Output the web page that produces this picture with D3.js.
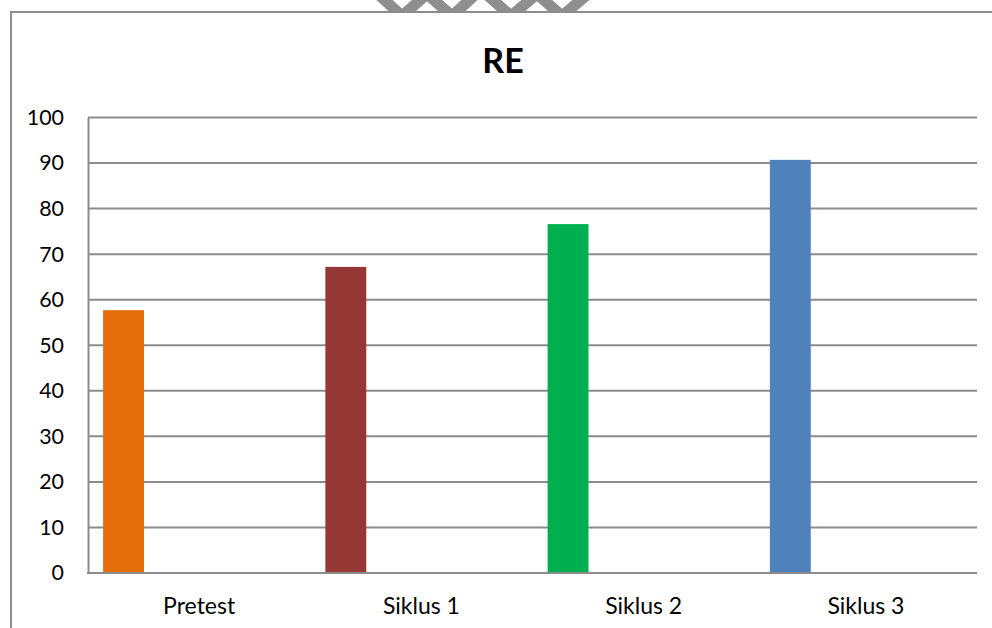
<!DOCTYPE html>
<html>
<head>
<meta charset="utf-8">
<script src="https://cdn.jsdelivr.net/npm/d3@7/dist/d3.min.js"></script>
<style>
  html, body { margin: 0; padding: 0; background: #fff; }
  svg { display: block; }
  text { font-family: Lato, "Open Sans", sans-serif; fill: #000; }
</style>
</head>
<body>
<svg id="chart" width="992" height="628"></svg>
<script>
// Chart data
const title = "RE";
const categories = ["Pretest", "Siklus 1", "Siklus 2", "Siklus 3"];
const values = [57.7, 67.2, 76.6, 90.7];
const barColors = ["#E46C0A", "#953735", "#00B050", "#4F81BD"];
const yTicks = [0, 10, 20, 30, 40, 50, 60, 70, 80, 90, 100];

const W = 992, H = 628;
const plot = { left: 88, right: 977, top: 117.5, bottom: 573 };
const grid = "#8c8c8c";

const svg = d3.select("#chart");

// grey zigzag emblem along the top edge, cut off by the frame
const mark = svg.append("g").attr("stroke", "#8e8e8e").attr("stroke-width", 11)
  .attr("fill", "none").attr("stroke-linejoin", "miter");
[[[378, -6], [402, 16], [427, -6], [452, 16], [476, -6]],
 [[486, -6], [511, 16], [537, -6], [562, 16], [588, -6]]]
  .forEach(pts => mark.append("path").attr("d", d3.line()(pts)));
svg.append("rect").attr("x", 0).attr("y", 12).attr("width", W).attr("height", H).attr("fill", "#fff");

// frame
svg.append("path").attr("d", `M11,${H} V12 H${W}`).attr("fill", "none")
  .attr("stroke", grid).attr("stroke-width", 2);

const x = d3.scaleBand().domain(categories).range([plot.left, plot.right]).paddingInner(0).paddingOuter(0);
const y = d3.scaleLinear().domain([0, 100]).range([plot.bottom, plot.top]);

// title
svg.append("text").attr("x", 503).attr("y", 73).attr("text-anchor", "middle")
  .attr("font-size", 34).attr("font-weight", "bold").text(title);

// gridlines
svg.append("g").selectAll("line").data(yTicks).join("line")
  .attr("x1", plot.left).attr("x2", plot.right)
  .attr("y1", d => y(d)).attr("y2", d => y(d))
  .attr("stroke", grid).attr("stroke-width", 2);

// y axis
const yAxis = svg.append("g").attr("transform", `translate(${plot.left},0)`)
  .call(d3.axisLeft(y).tickValues(yTicks).tickSize(0).tickPadding(24).tickFormat(d3.format("d")));
yAxis.select(".domain").attr("stroke", grid).attr("stroke-width", 2);
yAxis.selectAll("text").attr("font-size", 21.4).attr("font-family", "Lato, sans-serif").attr("fill", "#000");

// bars
const bw = x.bandwidth();
svg.append("g").selectAll("rect").data(categories).join("rect")
  .attr("x", d => x(d) + bw * 0.068)
  .attr("width", bw * 0.184)
  .attr("y", (d, i) => y(values[i]))
  .attr("height", (d, i) => y(0) - y(values[i]))
  .attr("fill", (d, i) => barColors[i]);

// baseline
svg.append("line").attr("x1", plot.left - 1).attr("x2", plot.right)
  .attr("y1", y(0)).attr("y2", y(0)).attr("stroke", grid).attr("stroke-width", 2);

// x axis labels
const xAxis = svg.append("g").attr("transform", `translate(0,${plot.bottom})`)
  .call(d3.axisBottom(x).tickSize(0).tickPadding(25));
xAxis.select(".domain").remove();
xAxis.selectAll("text").attr("font-size", 23).attr("font-family", "Lato, sans-serif").attr("fill", "#000");
</script>
</body>
</html>
